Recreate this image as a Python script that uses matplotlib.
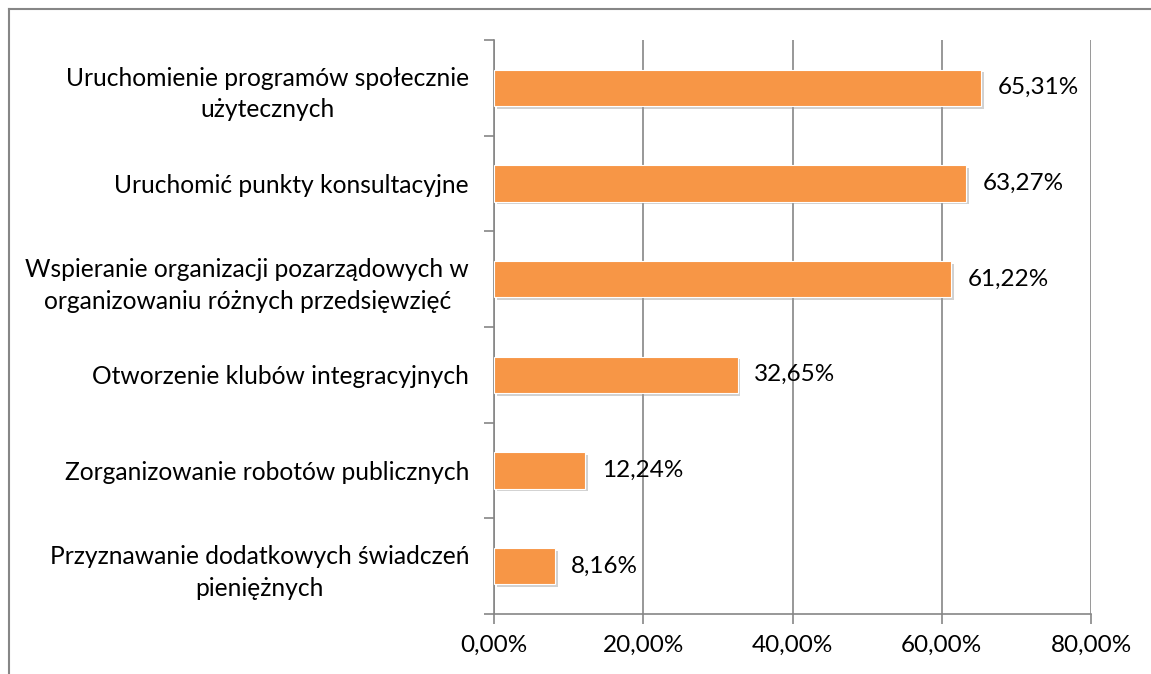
import matplotlib
matplotlib.use("Agg")
import matplotlib.pyplot as plt
import matplotlib.patheffects as pe
from matplotlib.ticker import FuncFormatter

categories = [
    "Uruchomienie programów społecznie\nużytecznych",
    "Uruchomić punkty konsultacyjne",
    "Wspieranie organizacji pozarządowych w\norganizowaniu różnych przedsięwzięć",
    "Otworzenie klubów integracyjnych",
    "Zorganizowanie robotów publicznych",
    "Przyznawanie dodatkowych świadczeń\npieniężnych",
]
values = [65.31, 63.27, 61.22, 32.65, 12.24, 8.16]
xticks = [0, 20, 40, 60, 80]

FS = 17.7
FSN = 17.5
plt.rcParams['font.family'] = ['Lato', 'DejaVu Sans']
fig = plt.figure(figsize=(11.51, 6.74), dpi=100)
ax = fig.add_axes([0.4292, 0.0890, 0.5187, 0.8517])

n = len(categories)
ypos = list(range(n))
bars = ax.barh(ypos, values, height=0.38, color="#F79646", edgecolor="white", linewidth=0.8, zorder=3)
for b in bars:
    b.set_path_effects([pe.SimplePatchShadow(offset=(2, -2), shadow_rgbFace="#999999", alpha=0.45), pe.Normal()])

for y, v in zip(ypos, values):
    ax.text(v + 2.2, y, f"{v:.2f}%".replace(".", ","), va="center", ha="left", fontsize=FSN, color="black")

ax.set_ylim(n - 0.5, -0.5)
ax.set_xlim(0, 80)
ax.set_yticks(ypos)
ax.set_yticklabels(categories, fontsize=FS, linespacing=1.45)
for lab in ax.get_yticklabels():
    lab.set_multialignment('center')
ax.tick_params(axis='y', length=0, pad=18)
# boundary ticks
ax.set_yticks([i + 0.5 for i in range(-1, n)], minor=True)
ax.tick_params(axis='y', which='minor', length=7, color="#868686", direction='out', width=1.2)
ax.set_xticks(xticks)
ax.xaxis.set_major_formatter(FuncFormatter(lambda x, p: f"{x:.2f}%".replace(".", ",")))
ax.tick_params(axis='x', length=7, color="#868686", width=1.2, labelsize=FSN, pad=8)
ax.grid(axis='x', color="#868686", linewidth=1.2, zorder=0)
for s in ["top", "right"]:
    ax.spines[s].set_visible(False)
for s in ["left", "bottom"]:
    ax.spines[s].set_color("#868686")
    ax.spines[s].set_linewidth(1.2)

# outer border (top and left visible)
fig.add_artist(plt.Line2D([9/1151, 1.0], [1 - 9/674, 1 - 9/674], transform=fig.transFigure, color="#868686", linewidth=1.5))
fig.add_artist(plt.Line2D([9/1151, 9/1151], [0, 1 - 9/674], transform=fig.transFigure, color="#868686", linewidth=1.5))

fig.savefig("out.png", dpi=100)
